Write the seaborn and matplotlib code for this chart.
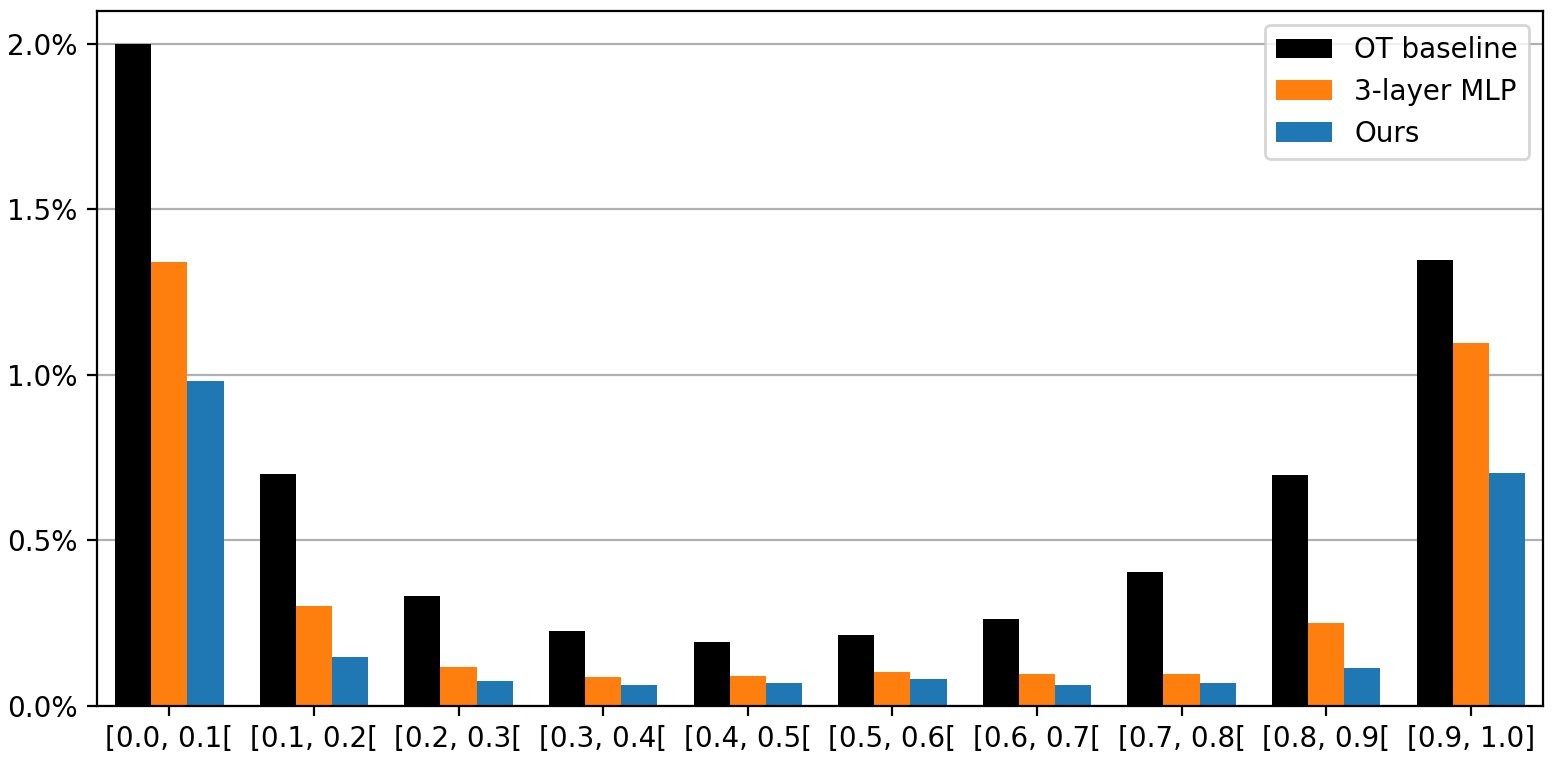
import pandas as pd
import seaborn as sns
import matplotlib.pyplot as plt
from matplotlib.ticker import PercentFormatter

# Data (values in %)
bins = ['[0.0, 0.1[', '[0.1, 0.2[', '[0.2, 0.3[', '[0.3, 0.4[', '[0.4, 0.5[',
        '[0.5, 0.6[', '[0.6, 0.7[', '[0.7, 0.8[', '[0.8, 0.9[', '[0.9, 1.0]']
ot_baseline = [2.000, 0.699, 0.330, 0.227, 0.191, 0.212, 0.263, 0.405, 0.696, 1.346]
mlp_3layer = [1.340, 0.300, 0.118, 0.085, 0.088, 0.103, 0.094, 0.097, 0.251, 1.095]
ours = [0.980, 0.148, 0.073, 0.061, 0.067, 0.079, 0.061, 0.067, 0.115, 0.702]
methods = ['OT baseline', '3-layer MLP', 'Ours']
colors = ['black', '#ff7f0e', '#1f77b4']

# Long form for seaborn
df = pd.DataFrame({'bin': bins * 3,
                   'value': ot_baseline + mlp_3layer + ours,
                   'method': [m for m in methods for _ in bins]})

plt.rcParams['font.family'] = ['DejaVu Sans']
plt.rcParams['font.size'] = 10

fig, ax = plt.subplots(figsize=(1555 / 200, 760 / 200), dpi=200)
fig.subplots_adjust(left=0.0624, right=0.9923, top=0.9855, bottom=0.0716)

sns.barplot(data=df, x='bin', y='value', hue='method', hue_order=methods,
            palette=colors, saturation=1, width=0.75, gap=0, ax=ax)

ax.set_xlim(-0.5, 9.5)
ax.set_ylim(0, 2.1)
ax.set_yticks([0, 0.5, 1.0, 1.5, 2.0])
ax.yaxis.set_major_formatter(PercentFormatter(xmax=100, decimals=1))
ax.set_xlabel('')
ax.set_ylabel('')
ax.yaxis.grid(True, color='#b0b0b0', linewidth=0.8)
ax.set_axisbelow(True)

handles, labels = ax.get_legend_handles_labels()
ax.legend(handles, labels, loc='upper right')

fig.savefig('out.png', dpi=200)
